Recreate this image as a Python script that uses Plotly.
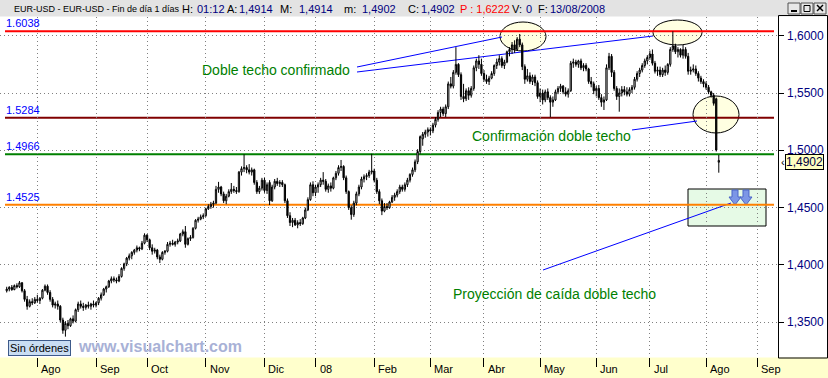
import plotly.graph_objects as go

# ---------------- data (EUR-USD daily, prices x 10000) ----------------
opens = [13775,13790,13805,13785,13820,13810,13845,13775,13700,13640,
13680,13670,13700,13690,13710,13780,13815,13760,13700,13650,
13660,13640,13520,13430,13490,13470,13530,13510,13610,13660,
13640,13630,13650,13640,13660,13650,13670,13710,13740,13790,
13810,13860,13880,13870,13860,13900,13970,14010,14060,14080,
14110,14130,14150,14140,14190,14260,14220,14150,14120,14130,
14070,14050,14110,14120,14180,14190,14180,14200,14210,14270,
14290,14180,14230,14240,14320,14390,14400,14420,14430,14490,
14510,14530,14540,14660,14680,14620,14560,14600,14640,14660,
14650,14640,14810,14840,14850,14830,14810,14830,14720,14640,
14670,14740,14650,14720,14560,14680,14730,14710,14720,14700,
14560,14430,14370,14390,14350,14370,14360,14410,14480,14570,
14700,14630,14680,14700,14740,14730,14660,14690,14670,14760,
14800,14850,14860,14760,14640,14500,14440,14540,14620,14680,
14750,14770,14780,14810,14820,14740,14640,14560,14470,14510,
14500,14550,14590,14610,14640,14680,14660,14700,14740,14790,
14830,14900,14990,15100,15140,15160,15180,15170,15220,15270,
15330,15360,15320,15380,15580,15560,15680,15750,15660,15470,
15450,15520,15480,15540,15720,15780,15750,15670,15620,15600,
15630,15670,15740,15770,15800,15740,15770,15860,15880,15920,
15880,15970,15920,15730,15620,15650,15600,15640,15590,15470,
15500,15440,15510,15460,15420,15440,15510,15540,15560,15510,
15490,15520,15760,15770,15750,15780,15720,15740,15710,15600,
15580,15520,15540,15460,15420,15440,15720,15820,15680,15540,
15470,15500,15530,15510,15490,15530,15550,15620,15670,15700,
15740,15780,15810,15840,15760,15690,15700,15660,15700,15680,
15750,15880,15910,15860,15880,15830,15880,15820,15690,15700,
15710,15670,15630,15600,15580,15550,15510,15480,15450,14896]

highs = [13810,13815,13825,13830,13840,13860,13850,13790,13730,13700,
13710,13720,13740,13720,13790,13830,13830,13780,13720,13680,
13690,13650,13540,13510,13520,13540,13560,13620,13680,13690,
13670,13660,13680,13670,13690,13680,13720,13760,13800,13820,
13870,13900,13900,13890,13920,13980,14020,14070,14100,14120,
14140,14170,14160,14210,14276,14270,14230,14180,14150,14140,
14090,14120,14130,14200,14210,14220,14210,14230,14280,14310,
14340,14240,14260,14330,14400,14420,14440,14450,14500,14530,
14550,14560,14690,14725,14690,14640,14620,14660,14715,14690,
14680,14820,14860,14966,14870,14880,14850,14840,14740,14690,
14760,14760,14720,14740,14700,14750,14760,14740,14740,14710,
14580,14460,14410,14410,14390,14400,14420,14500,14590,14720,
14730,14700,14720,14760,14810,14750,14710,14720,14770,14820,
14870,14916,14870,14780,14650,14520,14560,14640,14700,14770,
14790,14800,14830,14970,14840,14760,14660,14580,14540,14540,
14560,14610,14630,14660,14700,14700,14720,14760,14800,14850,
14920,15010,15130,15160,15180,15200,15200,15240,15290,15350,
15380,15380,15400,15600,15640,15700,15900,15760,15680,15580,
15540,15550,15560,15740,15800,15830,15800,15700,15660,15650,
15690,15750,15800,15830,15820,15790,15870,15900,15945,15960,
15988,16015,15940,15750,15710,15680,15660,15660,15610,15540,
15530,15530,15540,15480,15470,15530,15560,15580,15570,15550,
15540,15780,15800,15790,15790,15800,15760,15760,15720,15640,
15600,15560,15570,15490,15470,15750,15850,15840,15700,15560,
15540,15560,15560,15550,15550,15570,15640,15690,15720,15760,
15800,15830,15870,15880,15780,15730,15730,15720,15740,15760,
15900,16038,15930,15900,15890,15920,15900,15850,15730,15750,
15740,15690,15650,15620,15600,15570,15520,15500,15460,14960]

lows = [13760,13770,13775,13780,13795,13800,13760,13680,13610,13630,
13650,13660,13670,13660,13700,13770,13740,13680,13630,13620,
13610,13500,13400,13375,13440,13460,13490,13500,13590,13620,
13600,13610,13620,13610,13630,13630,13650,13690,13730,13760,
13800,13840,13850,13840,13850,13890,13950,13990,14040,14050,
14090,14110,14120,14130,14180,14200,14130,14090,14100,14050,
14017,14040,14090,14110,14160,14170,14160,14180,14200,14250,
14150,14170,14210,14230,14310,14370,14390,14400,14420,14480,
14490,14500,14530,14630,14600,14540,14530,14590,14620,14630,
14620,14630,14780,14810,14800,14790,14780,14700,14620,14620,
14650,14630,14620,14523,14550,14660,14690,14680,14680,14540,
14410,14340,14330,14340,14320,14340,14350,14400,14470,14560,
14600,14600,14630,14680,14700,14640,14630,14640,14660,14740,
14780,14820,14740,14620,14480,14395,14420,14520,14600,14660,
14720,14740,14760,14790,14720,14620,14530,14435,14460,14480,
14490,14540,14560,14590,14620,14640,14640,14680,14720,14770,
14810,14880,14970,15040,15110,15120,15130,15150,15200,15250,
15290,15300,15290,15360,15540,15540,15660,15640,15440,15420,
15430,15440,15460,15520,15690,15710,15650,15600,15580,15570,
15620,15650,15710,15740,15720,15710,15760,15820,15840,15850,
15870,15900,15700,15580,15600,15580,15570,15560,15450,15420,
15400,15420,15440,15290,15380,15430,15490,15510,15490,15470,
15460,15510,15720,15730,15720,15700,15690,15690,15580,15550,
15490,15470,15440,15380,15352,15430,15700,15640,15520,15440,
15337,15470,15480,15470,15470,15500,15530,15600,15640,15680,
15720,15750,15790,15740,15670,15650,15640,15640,15650,15660,
15730,15860,15840,15810,15810,15800,15800,15660,15660,15680,
15650,15600,15580,15550,15530,15490,15460,15390,14990,14805]

closes = [13790,13805,13785,13820,13810,13845,13775,13700,13640,13680,
13670,13700,13690,13710,13780,13815,13760,13700,13650,13660,
13640,13520,13430,13490,13470,13530,13510,13610,13660,13640,
13630,13650,13640,13660,13650,13670,13710,13740,13790,13810,
13860,13880,13870,13860,13900,13970,14010,14060,14080,14110,
14130,14150,14140,14190,14260,14220,14150,14120,14130,14070,
14050,14110,14120,14180,14190,14180,14200,14210,14270,14290,
14180,14230,14240,14320,14390,14400,14420,14430,14490,14510,
14530,14540,14660,14680,14620,14560,14600,14640,14660,14650,
14640,14810,14840,14850,14830,14810,14830,14720,14640,14670,
14740,14650,14700,14560,14680,14730,14710,14720,14700,14560,
14430,14370,14390,14350,14370,14360,14410,14480,14570,14700,
14630,14680,14700,14740,14730,14660,14690,14670,14760,14800,
14850,14860,14760,14640,14500,14440,14540,14620,14680,14750,
14770,14780,14810,14820,14740,14640,14560,14470,14510,14500,
14550,14590,14610,14640,14680,14660,14700,14740,14790,14830,
14900,14990,15120,15140,15160,15180,15170,15220,15270,15330,
15360,15320,15380,15580,15560,15680,15750,15660,15470,15450,
15520,15480,15540,15720,15780,15750,15670,15620,15600,15630,
15670,15740,15770,15800,15740,15770,15860,15880,15920,15880,
15970,15920,15730,15620,15650,15600,15640,15590,15470,15500,
15440,15510,15460,15420,15440,15510,15540,15560,15510,15490,
15520,15760,15770,15750,15780,15720,15740,15710,15600,15580,
15520,15540,15460,15420,15440,15720,15820,15680,15540,15470,
15500,15530,15510,15490,15530,15550,15620,15670,15700,15740,
15780,15810,15840,15760,15690,15700,15660,15700,15680,15750,
15880,15910,15860,15880,15830,15880,15820,15690,15700,15710,
15670,15630,15600,15580,15550,15510,15480,15410,15003,14912]

PRICE_SCALE = 10000.0

month_labels = ["Ago", "Sep", "Oct", "Nov", "Dic", "08", "Feb", "Mar",
                "Abr", "May", "Jun", "Jul", "Ago", "Sep"]
month_start_bar = [12, 35, 55, 78, 101, 121, 144, 166, 187, 209, 231, 252, 274, 294]

y_tick_values = [1.35, 1.40, 1.45, 1.50, 1.55, 1.60]
y_tick_labels = ["1,3500", "1,4000", "1,4500", "1,5000", "1,5500", "1,6000"]

level_values = [1.6038, 1.5284, 1.4966, 1.4525]
level_labels = ["1.6038", "1.5284", "1.4966", "1.4525"]
level_colors = ["#FF0000", "#800000", "#008000", "#FF8000"]

last_price = 1.4902
last_price_label = "1,4902"

header_parts = [("EUR-USD - EUR-USD - Fin de día 1 días", "#000000"),
                ("H:", "#000000"), ("01:12", "#000080"),
                ("A:", "#000000"), ("1,4914", "#000080"),
                ("M:", "#000000"), ("1,4914", "#000080"),
                ("m:", "#000000"), ("1,4902", "#000080"),
                ("C:", "#000000"), ("1,4902", "#000080"),
                ("P : 1,6222", "#FF0000"),
                ("V:", "#000000"), ("0", "#000080"),
                ("F:", "#000000"), ("13/08/2008", "#000080")]
header_x = [12, 180, 195, 225, 237, 278, 297, 342, 360, 406, 419, 458, 510, 524, 536, 548]

notes = ["Doble techo confirmado", "Confirmación doble techo",
         "Proyección de caída doble techo"]

# ---------------- geometry helpers (pixels -> paper) ----------------
W, H = 828, 378
ML, MR, MT, MB = 0, 50, 17, 21
PW = W - ML - MR
PH = H - MT - MB


def px(x):
    return (x - ML) / PW


def py(y):
    return (H - MB - y) / PH


FONT = "Liberation Sans, Arial, sans-serif"

x_vals = list(range(len(closes)))
o = [v / PRICE_SCALE for v in opens]
h = [v / PRICE_SCALE for v in highs]
l = [v / PRICE_SCALE for v in lows]
c = [v / PRICE_SCALE for v in closes]

fig = go.Figure()
fig.add_trace(go.Candlestick(
    x=x_vals, open=o, high=h, low=l, close=c,
    increasing=dict(line=dict(color="#000000", width=1), fillcolor="#FFFFFF"),
    decreasing=dict(line=dict(color="#000000", width=1), fillcolor="#000000"),
    whiskerwidth=0, showlegend=False, hoverinfo="skip"))

shapes = []
# header bar, bottom band, right panel
shapes.append(dict(type="rect", xref="paper", yref="paper", x0=px(0), x1=px(W),
                   y0=py(16.5), y1=py(0), fillcolor="#E3E3E3", line=dict(width=0), layer="below"))
shapes.append(dict(type="rect", xref="paper", yref="paper", x0=px(0), x1=px(W),
                   y0=py(H), y1=py(357.5), fillcolor="#FFFFCC", line=dict(width=0), layer="below"))
shapes.append(dict(type="rect", xref="paper", yref="paper", x0=px(778.5), x1=px(827.5),
                   y0=py(358), y1=py(15.5), fillcolor="rgba(0,0,0,0)",
                   line=dict(color="#000000", width=1), layer="below"))
# ellipses
for (x0, x1, y0, y1) in [(500, 546, 22, 51), (653, 702, 20, 45), (693, 739, 96, 133)]:
    shapes.append(dict(type="circle", xref="paper", yref="paper", x0=px(x0), x1=px(x1),
                       y0=py(y1), y1=py(y0), fillcolor="#FFFFE1",
                       line=dict(color="#000000", width=1), layer="below"))
# projection box
shapes.append(dict(type="rect", xref="paper", yref="paper", x0=px(688), x1=px(766),
                   y0=py(226), y1=py(189), fillcolor="#E6FAE6",
                   line=dict(color="#000000", width=1), layer="below"))
# arrows inside box
for cx in [735, 746]:
    pts = [(cx - 3, 190), (cx + 3, 190), (cx + 3, 197), (cx + 6, 197), (cx, 205), (cx - 6, 197), (cx - 3, 197)]
    path = "M " + " L ".join(f"{px(a):.5f},{py(b):.5f}" for a, b in pts) + " Z"
    shapes.append(dict(type="path", xref="paper", yref="paper", path=path,
                       fillcolor="#7C96E6", line=dict(color="#4A64C8", width=1), layer="below"))
# blue pointer lines
for (x0, y0, x1, y1) in [(357, 67, 502, 37), (357, 72, 653, 36), (632, 130, 697, 121), (543, 270, 731, 203)]:
    shapes.append(dict(type="line", xref="paper", yref="paper", x0=px(x0), y0=py(y0),
                       x1=px(x1), y1=py(y1), line=dict(color="#0000FF", width=1), layer="below"))
# horizontal levels
for val, col in zip(level_values, level_colors):
    shapes.append(dict(type="line", xref="paper", yref="y", x0=px(5), x1=px(774),
                       y0=val, y1=val, line=dict(color=col, width=2), layer="below"))
# window buttons
for bx in [788, 801, 814]:
    shapes.append(dict(type="rect", xref="paper", yref="paper", x0=px(bx), x1=px(bx + 12),
                       y0=py(14), y1=py(3), fillcolor="#E8E8E8",
                       line=dict(color="#505050", width=1), layer="above"))
shapes.append(dict(type="line", xref="paper", yref="paper", x0=px(791), x1=px(797),
                   y0=py(11), y1=py(11), line=dict(color="#000000", width=2), layer="above"))
shapes.append(dict(type="rect", xref="paper", yref="paper", x0=px(804), x1=px(810),
                   y0=py(11.5), y1=py(5.5), line=dict(color="#000000", width=1), layer="above"))
shapes.append(dict(type="line", xref="paper", yref="paper", x0=px(817), x1=px(823),
                   y0=py(11), y1=py(5), line=dict(color="#000000", width=1.5), layer="above"))
shapes.append(dict(type="line", xref="paper", yref="paper", x0=px(817), x1=px(823),
                   y0=py(5), y1=py(11), line=dict(color="#000000", width=1.5), layer="above"))

ann = []
for (txt, col), hx in zip(header_parts, header_x):
    size = 9 if hx == 12 else 11
    ann.append(dict(text=txt, xref="paper", yref="paper", x=px(hx), y=py(8.5),
                    xanchor="left", yanchor="middle", showarrow=False,
                    font=dict(family=FONT, size=size, color=col)))
for val, lab in zip(level_values, level_labels):
    ann.append(dict(text=lab, xref="paper", yref="y", x=px(4), y=val, xanchor="left",
                    yanchor="bottom", yshift=0, showarrow=False,
                    font=dict(family=FONT, size=11, color="#0000FF")))
for val, lab in zip(y_tick_values, y_tick_labels):
    ann.append(dict(text=lab, xref="paper", yref="y", x=px(785), y=val, xanchor="left",
                    yanchor="middle", showarrow=False,
                    font=dict(family=FONT, size=12, color="#000080")))
for txt, (nx, ny) in zip(notes, [(200, 70), (470, 136), (451, 294)]):
    ann.append(dict(text=txt, xref="paper", yref="paper", x=px(nx), y=py(ny),
                    xanchor="left", yanchor="middle", showarrow=False,
                    font=dict(family=FONT, size=14, color="#008000")))
for lab, pos in zip(month_labels, month_start_bar):
    ann.append(dict(text=lab, xref="x", yref="paper", x=pos, y=py(369), xanchor="left",
                    yanchor="middle", xshift=2, showarrow=False,
                    font=dict(family=FONT, size=11, color="#000000")))
ann.append(dict(text="Sin órdenes", xref="paper", yref="paper", x=px(8), y=py(347.5),
                xanchor="left", yanchor="middle", showarrow=False, bgcolor="#C9DDF3",
                bordercolor="#3D5A8A", borderwidth=1, borderpad=1,
                font=dict(family=FONT, size=11, color="#000000")))
ann.append(dict(text="<b>www.visualchart.com</b>", xref="paper", yref="paper", x=px(76), y=py(346),
                xanchor="left", yanchor="middle", showarrow=False,
                font=dict(family=FONT, size=16, color="#A8B1D6")))
ann.append(dict(text=last_price_label, xref="paper", yref="y", x=px(785), y=last_price,
                xanchor="left", yanchor="middle", showarrow=False, bgcolor="#FFFFC0",
                bordercolor="#000000", borderwidth=1, borderpad=0,
                font=dict(family=FONT, size=12, color="#000040")))
ann.append(dict(text="‹", xref="paper", yref="y", x=px(779), y=last_price,
                xanchor="left", yanchor="middle", showarrow=False,
                font=dict(family=FONT, size=11, color="#000000")))

fig.update_layout(
    width=W, height=H, autosize=False,
    margin=dict(l=ML, r=MR, t=MT, b=MB, pad=0, autoexpand=False),
    paper_bgcolor="#FFFFFF", plot_bgcolor="#FFFFFF",
    shapes=shapes, annotations=ann, showlegend=False,
    font=dict(family=FONT, size=11, color="#000000"),
    xaxis=dict(range=[-2.63, 302.2], tickvals=month_start_bar, showticklabels=False,
               ticks="outside", ticklen=9, tickcolor="#000000", tickwidth=1,
               showgrid=True, gridcolor="#808080", griddash="1px,3px", gridwidth=1,
               zeroline=False, showline=False, rangeslider=dict(visible=False),
               fixedrange=True, automargin=False),
    yaxis=dict(side="right", range=[1.319731, 1.616312], tickvals=y_tick_values,
               showticklabels=False, ticks="outside", ticklen=5, tickcolor="#000000",
               showgrid=True, gridcolor="#808080", griddash="1px,3px", gridwidth=1,
               showline=True, linecolor="#000000", linewidth=1, zeroline=False,
               fixedrange=True, automargin=False),
)

fig.write_html("out.html", config={"displayModeBar": False, "staticPlot": True},
               post_script="document.body.style.margin='0px';document.body.style.padding='0px';")
